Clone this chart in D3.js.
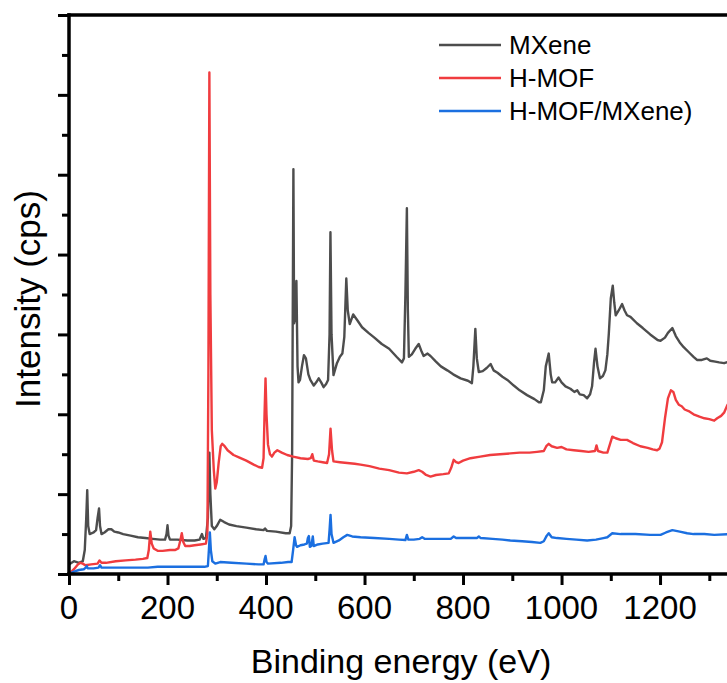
<!DOCTYPE html>
<html><head><meta charset="utf-8">
<script src="https://cdn.jsdelivr.net/npm/d3@7"></script>
<style>
html,body{margin:0;padding:0;background:#fff;}
svg{display:block;font-family:"Liberation Sans",Arial,sans-serif;}
</style></head>
<body>
<svg id="chart" width="727" height="683"></svg>
<script>
// ---- data (binding energy eV, intensity in arbitrary units) ----
const seriesNames = ["MXene", "H-MOF", "H-MOF/MXene)"];
const seriesColors = ["#4d4d4d", "#f03c3f", "#1b6fe0"];

const mxene = [[0,0.12],[10,0.16],[20,0.14],[28,0.16],[32,0.3],[35,0.7],[37,1.05],[39,0.6],[42,0.5],[50,0.52],[55,0.55],[58,0.7],[61,0.82],[63,0.6],[66,0.5],[72,0.52],[80,0.56],[86,0.56],[92,0.53],[100,0.52],[110,0.5],[125,0.48],[140,0.46],[155,0.45],[170,0.44],[185,0.43],[195,0.43],[198,0.5],[200,0.61],[202,0.48],[205,0.43],[220,0.43],[240,0.42],[255,0.42],[265,0.43],[270,0.5],[273,0.44],[278,0.45],[282,0.7],[285,1.52],[287,1.0],[290,0.6],[295,0.56],[300,0.6],[307,0.68],[315,0.65],[325,0.62],[340,0.6],[360,0.58],[380,0.56],[395,0.55],[398,0.57],[402,0.54],[420,0.53],[440,0.51],[448,0.51],[451,0.6],[453,1.5],[455.6,5.07],[457,3.14],[459,3.2],[461.7,3.67],[464,2.6],[466,2.4],[469,2.43],[473,2.6],[477,2.74],[481,2.7],[486,2.5],[490,2.43],[497,2.36],[502,2.4],[507,2.45],[512,2.4],[517,2.34],[522,2.38],[526,2.43],[529,3.0],[530.8,4.28],[533,3.0],[537,2.49],[544,2.64],[550,2.72],[555,2.76],[559,2.97],[563,3.7],[566,3.3],[570,3.13],[577,3.25],[585,3.18],[595,3.09],[608,3.02],[620,2.96],[635,2.88],[650,2.82],[665,2.72],[676,2.65],[680,2.7],[683,3.5],[686,4.58],[688,3.3],[690,2.72],[696,2.75],[703,2.82],[710,2.88],[715,2.8],[720,2.73],[728,2.76],[734,2.73],[745,2.66],[755,2.6],[768,2.55],[780,2.5],[795,2.45],[810,2.42],[818,2.39],[821,2.6],[825,3.07],[828,2.7],[832,2.53],[840,2.54],[848,2.58],[856,2.63],[862,2.55],[870,2.52],[880,2.47],[890,2.43],[903,2.36],[915,2.3],[930,2.24],[945,2.19],[954,2.15],[958,2.15],[964,2.3],[968,2.6],[974,2.76],[978,2.5],[981,2.4],[987,2.4],[994,2.46],[1000,2.4],[1008,2.35],[1018,2.32],[1026,2.28],[1032,2.3],[1037,2.25],[1045,2.24],[1052,2.2],[1058,2.25],[1062,2.35],[1066,2.65],[1069,2.82],[1073,2.6],[1078,2.45],[1084,2.48],[1089,2.55],[1093,2.75],[1096,3.01],[1100,3.45],[1104,3.61],[1107,3.4],[1110,3.24],[1116,3.3],[1123,3.38],[1128,3.3],[1133,3.24],[1140,3.22],[1153,3.14],[1165,3.08],[1180,3.0],[1195,2.93],[1201,2.92],[1210,2.96],[1216,3.02],[1225,3.08],[1232,2.98],[1240,2.9],[1248,2.84],[1258,2.78],[1268,2.72],[1275,2.68],[1285,2.68],[1295,2.7],[1302,2.67],[1312,2.66],[1320,2.65],[1330,2.64],[1340,2.66]];

const hmof = [[0,0.0],[10,0.06],[18,0.12],[23,0.14],[28,0.13],[33,0.11],[45,0.12],[58,0.13],[62,0.17],[66,0.14],[75,0.14],[95,0.16],[115,0.17],[135,0.18],[150,0.19],[159,0.2],[162,0.3],[165,0.53],[168,0.38],[172,0.32],[180,0.29],[190,0.29],[205,0.3],[215,0.3],[222,0.32],[226,0.42],[229,0.51],[232,0.4],[236,0.35],[245,0.35],[255,0.36],[267,0.37],[278,0.38],[281,0.5],[283,2.5],[285,6.28],[287,3.5],[290,1.8],[294,1.3],[297,1.07],[300,1.15],[304,1.4],[308,1.6],[311,1.63],[316,1.6],[322,1.55],[334,1.49],[345,1.46],[360,1.42],[375,1.37],[385,1.34],[392,1.33],[395,1.45],[397,2.0],[399,2.45],[401,2.0],[404,1.62],[408,1.5],[412,1.47],[417,1.52],[423,1.55],[432,1.52],[443,1.49],[455,1.47],[470,1.45],[485,1.44],[491,1.45],[494,1.5],[497,1.42],[505,1.41],[515,1.4],[524,1.39],[528,1.5],[531,1.82],[534,1.55],[537,1.41],[550,1.4],[565,1.39],[580,1.38],[592,1.37],[610,1.35],[630,1.32],[650,1.3],[670,1.27],[686,1.26],[700,1.28],[710,1.3],[717,1.28],[725,1.24],[734,1.22],[745,1.24],[760,1.25],[771,1.26],[776,1.33],[781,1.43],[786,1.4],[791,1.39],[800,1.42],[815,1.45],[835,1.47],[855,1.49],[875,1.5],[896,1.51],[915,1.52],[935,1.52],[950,1.53],[964,1.54],[969,1.6],[974,1.63],[980,1.6],[991,1.58],[1000,1.59],[1010,1.56],[1025,1.55],[1040,1.54],[1055,1.53],[1068,1.54],[1071,1.61],[1074,1.54],[1085,1.52],[1093,1.52],[1098,1.62],[1103,1.72],[1110,1.7],[1120,1.68],[1133,1.68],[1145,1.64],[1160,1.6],[1175,1.58],[1185,1.56],[1194,1.55],[1199,1.57],[1204,1.65],[1210,1.95],[1216,2.2],[1222,2.3],[1227,2.28],[1232,2.18],[1238,2.12],[1244,2.1],[1250,2.06],[1258,2.04],[1268,2.0],[1280,1.97],[1290,1.95],[1300,1.94],[1310,1.92],[1316,1.95],[1324,1.98],[1330,2.02],[1337,2.12],[1340,2.14]];

const hmofMxene = [[0,0.0],[10,0.03],[20,0.05],[30,0.06],[34,0.08],[36,0.1],[38,0.07],[50,0.07],[60,0.08],[63,0.11],[66,0.08],[80,0.08],[100,0.08],[130,0.08],[160,0.08],[180,0.09],[200,0.09],[230,0.09],[255,0.09],[275,0.09],[282,0.1],[284,0.3],[286,0.52],[288,0.3],[291,0.16],[297,0.13],[307,0.15],[330,0.14],[360,0.13],[385,0.12],[395,0.12],[397,0.18],[399,0.225],[401,0.15],[404,0.13],[430,0.14],[445,0.15],[452,0.15],[455,0.3],[458,0.46],[461,0.36],[463,0.34],[470,0.36],[478,0.37],[483,0.38],[485,0.45],[487,0.475],[489,0.34],[492,0.35],[495,0.47],[497,0.35],[505,0.37],[515,0.38],[527,0.39],[529,0.55],[531,0.74],[533,0.5],[537,0.39],[548,0.42],[557,0.46],[565,0.49],[575,0.47],[592,0.46],[620,0.45],[650,0.44],[670,0.43],[683,0.425],[686,0.49],[689,0.43],[700,0.43],[712,0.44],[717,0.46],[722,0.44],[740,0.44],[760,0.44],[775,0.44],[781,0.47],[786,0.45],[800,0.45],[820,0.45],[828,0.45],[832,0.47],[836,0.45],[860,0.44],[880,0.43],[896,0.42],[920,0.41],[940,0.4],[957,0.39],[964,0.41],[970,0.48],[974,0.51],[980,0.46],[991,0.45],[1010,0.44],[1030,0.43],[1052,0.42],[1070,0.43],[1085,0.45],[1093,0.46],[1103,0.51],[1120,0.5],[1150,0.5],[1180,0.49],[1201,0.49],[1212,0.52],[1225,0.55],[1240,0.53],[1255,0.51],[1268,0.5],[1290,0.5],[1310,0.49],[1340,0.5]];

const xMajorTicks = [0, 200, 400, 600, 800, 1000, 1200];
const xMinorTicks = [100, 300, 500, 700, 900, 1100, 1300];
const yMajorTicks = [0, 1, 2, 3, 4, 5, 6, 7];
const yMinorTicks = [0.5, 1.5, 2.5, 3.5, 4.5, 5.5, 6.5];
const xTitle = "Binding energy (eV)";
const yTitle = "Intensity (cps)";

// ---- drawing ----
const svg = d3.select("#chart");
const x = d3.scaleLinear().domain([0, 1340]).range([69, 729]);
const y = d3.scaleLinear().domain([0, 7]).range([574, 15]);

const line = d3.line().x(d => x(d[0])).y(d => y(d[1]));
const allSeries = [mxene, hmof, hmofMxene];
svg.append("g").selectAll("path").data(allSeries).join("path")
  .attr("d", line)
  .attr("fill", "none")
  .attr("stroke", (d, i) => seriesColors[i])
  .attr("stroke-width", 2.4)
  .attr("stroke-linejoin", "round");

// axes
function styleAxis(g, w) {
  g.selectAll(".domain").remove();
  g.selectAll(".tick line").attr("stroke", "#000").attr("stroke-width", w);
}
const xMajor = svg.append("g").attr("transform", `translate(0,${y(0)})`)
  .call(d3.axisBottom(x).tickValues(xMajorTicks).tickSize(11).tickFormat(""));
styleAxis(xMajor, 3);
const xMinor = svg.append("g").attr("transform", `translate(0,${y(0)})`)
  .call(d3.axisBottom(x).tickValues(xMinorTicks).tickSize(7).tickFormat(""));
styleAxis(xMinor, 3);
const yMajor = svg.append("g").attr("transform", `translate(${x(0)},0)`)
  .call(d3.axisLeft(y).tickValues(yMajorTicks).tickSize(11).tickFormat(""));
styleAxis(yMajor, 3);
const yMinor = svg.append("g").attr("transform", `translate(${x(0)},0)`)
  .call(d3.axisLeft(y).tickValues(yMinorTicks).tickSize(7).tickFormat(""));
styleAxis(yMinor, 3);

// axis lines (left, bottom, top)
svg.append("line").attr("x1", x(0)).attr("x2", x(0)).attr("y1", y(7) - 1.7).attr("y2", y(0) + 1.7)
  .attr("stroke", "#000").attr("stroke-width", 3.5);
svg.append("line").attr("x1", x(0) - 1.7).attr("x2", 727).attr("y1", y(0)).attr("y2", y(0))
  .attr("stroke", "#000").attr("stroke-width", 3.5);
svg.append("line").attr("x1", x(0) - 1.7).attr("x2", 727).attr("y1", y(7)).attr("y2", y(7))
  .attr("stroke", "#000").attr("stroke-width", 3.5);

// x tick labels
svg.append("g").selectAll("text").data(xMajorTicks).join("text")
  .attr("x", d => x(d)).attr("y", 619)
  .attr("text-anchor", "middle").attr("font-size", 33).attr("fill", "#000")
  .text(d => d);

// titles
svg.append("text").attr("x", 401).attr("y", 673).attr("text-anchor", "middle")
  .attr("font-size", 34).attr("fill", "#000").text(xTitle);
svg.append("text").attr("transform", "translate(40,299) rotate(-90)").attr("text-anchor", "middle")
  .attr("font-size", 35).attr("fill", "#000").text(yTitle);

// legend
const leg = svg.append("g");
seriesNames.forEach((name, i) => {
  const yy = 45 + i * 33;
  leg.append("line").attr("x1", 439).attr("x2", 501).attr("y1", yy).attr("y2", yy)
    .attr("stroke", seriesColors[i]).attr("stroke-width", 2.4);
  leg.append("text").attr("x", 509).attr("y", yy + 8.5).attr("font-size", 26)
    .attr("fill", "#000").text(name);
});
</script>
</body></html>
